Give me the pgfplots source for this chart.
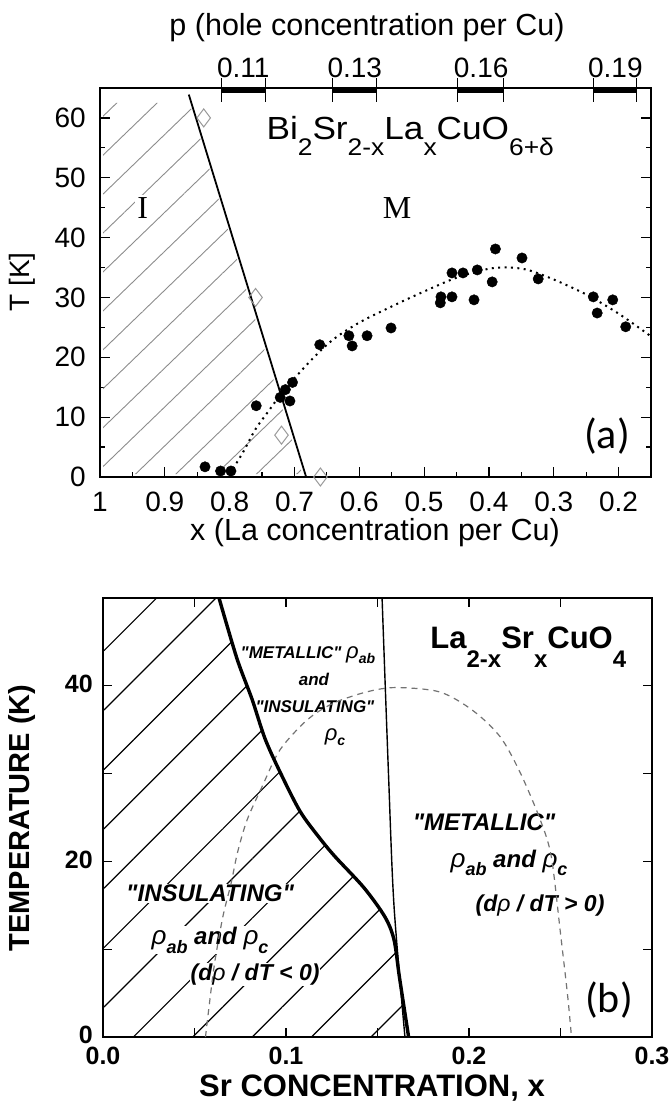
\documentclass[border=0pt]{standalone}
\usepackage{fontspec}
\setmainfont[Ligatures=TeXOff]{Liberation Sans}
\newfontfamily\seriffont{Liberation Serif}
\newfontfamily\carlito{Carlito}
\newfontfamily\widesans[FakeStretch=1.1]{Liberation Sans}
\usepackage{pgfplots}
\pgfplotsset{compat=1.18}
\usetikzlibrary{patterns.meta}
\newcommand\fs[1]{\fontsize{#1}{#1}\selectfont}
\newcommand\dn[2]{\raisebox{-#1}{#2}}
\newcommand\rhoab{{\mdseries\fs{26}ρ}\dn{0.35em}{\fs{18}ab}}
\newcommand\rhoc{{\mdseries\fs{26}ρ}\dn{0.35em}{\fs{18}c}}

\begin{document}
\begin{tikzpicture}
\path[use as bounding box] (0pt,0pt) rectangle (671pt,1111pt);

% ---- (a) Bi2Sr2-xLaxCuO6+d
\begin{axis}[
  at={(100pt,634pt)}, anchor=south west,
  scale only axis, width=551pt, height=389pt,
  x dir=reverse, xmin=0.15, xmax=1, ymin=0, ymax=65,
  xtick={0.2,0.3,0.4,0.5,0.6,0.7,0.8,0.9,1},
  xticklabels={0.2,0.3,0.4,0.5,0.6,0.7,0.8,0.9,1},
  minor xtick={0.25,0.35,0.45,0.55,0.65,0.75,0.85,0.95},
  ytick={0,10,20,30,40,50,60},
  yticklabels={0,10,20,30,40,50,60},
  minor ytick={5,15,25,35,45,55},
  xtick pos=left, ytick pos=both,
  tick align=inside,
  major tick length=10pt, minor tick length=5pt,
  every tick/.style={black, line width=1.2pt},
  axis line style={line width=1.6pt},
  tick label style={font=\fs{28}, inner sep=1pt},
  xticklabel style={yshift=-14pt},
  yticklabel style={xshift=-13pt},
  clip=false,
]
% insulating region
\addplot[draw=none, pattern={Lines[angle=44,distance=28pt,line width=0.9pt]},
  pattern color=black!45, forget plot]
  coordinates {(0.995,0.5) (0.995,62.5) (0.862,62.5) (0.688,0.5)} -- cycle;
\node[fill=white, inner sep=2pt, font=\seriffont\fs{32}] at (axis cs:0.934,45) {I};
% I-M boundary
\addplot[black, line width=1.8pt] coordinates {(0.863,63.9) (0.682,0)};
% dotted Tc(x) guide
\addplot[black, line width=2pt, dash pattern=on 2pt off 4.4pt, smooth] coordinates {
  (0.80,0.5) (0.78,4) (0.76,8) (0.74,11) (0.72,14) (0.70,16.5) (0.67,20)
  (0.64,23) (0.60,25.8) (0.55,28.5) (0.50,31) (0.45,33.3) (0.40,34.8)
  (0.37,35) (0.34,34.6) (0.30,33) (0.25,30.5) (0.20,27.3) (0.15,23.5)};
% onset of insulating behaviour
\addplot[only marks, mark=diamond, mark size=9pt,
  mark options={fill=white, draw=black!40, line width=1pt}]
  coordinates {(0.84,60) (0.76,30) (0.72,7) (0.66,0)};
% Tc data
\addplot[only marks, mark=*, mark size=5.2pt, black] coordinates {
  (0.838,1.7) (0.814,1.0) (0.798,1.0) (0.759,11.9) (0.722,13.3) (0.714,14.6)
  (0.703,15.8) (0.707,12.7) (0.661,22.1) (0.616,23.6) (0.611,21.9) (0.588,23.6)
  (0.551,24.9) (0.475,29.1) (0.474,30.1) (0.457,30.1) (0.457,34.1) (0.440,34.1)
  (0.423,29.6) (0.418,34.6) (0.395,32.6) (0.390,38.1) (0.349,36.6) (0.324,33.1)
  (0.239,30.1) (0.233,27.4) (0.209,29.6) (0.189,25.1)};
% hole concentration scale on top
\addplot[black, line width=4.5pt, forget plot] coordinates {(0.813,64.6) (0.744,64.6)};
\addplot[black, line width=4.5pt, forget plot] coordinates {(0.641,64.6) (0.573,64.6)};
\addplot[black, line width=4.5pt, forget plot] coordinates {(0.448,64.6) (0.377,64.6)};
\addplot[black, line width=4.5pt, forget plot] coordinates {(0.239,64.6) (0.172,64.6)};
\draw[line width=1.1pt] (axis cs:0.813,66.7) -- (axis cs:0.813,62.7);
\draw[line width=1.1pt] (axis cs:0.744,66.7) -- (axis cs:0.744,62.7);
\draw[line width=1.1pt] (axis cs:0.641,66.7) -- (axis cs:0.641,62.7);
\draw[line width=1.1pt] (axis cs:0.573,66.7) -- (axis cs:0.573,62.7);
\draw[line width=1.1pt] (axis cs:0.448,66.7) -- (axis cs:0.448,62.7);
\draw[line width=1.1pt] (axis cs:0.377,66.7) -- (axis cs:0.377,62.7);
\draw[line width=1.1pt] (axis cs:0.239,66.7) -- (axis cs:0.239,62.7);
\draw[line width=1.1pt] (axis cs:0.172,66.7) -- (axis cs:0.172,62.7);
\node[font=\fs{28}] at (axis cs:0.779,68.3) {0.11};
\node[font=\fs{28}] at (axis cs:0.607,68.3) {0.13};
\node[font=\fs{28}] at (axis cs:0.412,68.3) {0.16};
\node[font=\fs{28}] at (axis cs:0.205,68.3) {0.19};
\end{axis}

% ---- (b) La2-xSrxCuO4
\begin{axis}[
  at={(103pt,74pt)}, anchor=south west,
  scale only axis, width=549pt, height=439pt,
  xmin=0, xmax=0.3, ymin=0, ymax=50,
  xtick={0,0.05,0.1,0.15,0.2,0.25,0.3},
  xticklabels={0.0,,0.1,,0.2,,0.3},
  ytick={0,10,20,30,40,50},
  yticklabels={0,,20,,40,},
  xtick pos=both, ytick pos=both,
  tick align=inside,
  major tick length=9pt,
  every tick/.style={black, line width=1.4pt},
  axis line style={line width=2pt},
  tick label style={font=\bfseries\fs{25}, inner sep=1pt},
  xticklabel style={yshift=-9pt},
  yticklabel style={xshift=-9pt, yshift=2pt},
  clip=false,
]
\addplot[draw=none, pattern={Lines[angle=45,distance=42pt,line width=1.2pt]},
  pattern color=black, forget plot]
  coordinates {(0,0) (0,50) (0.0634,50) (0.0732,43.1) (0.0814,38.5) (0.0885,34)
  (0.0967,30.2) (0.1077,25.7) (0.1186,22.6) (0.127,20.5) (0.1426,17) (0.154,13.7)
  (0.159,11.1) (0.162,6.8) (0.167,0)} -- cycle;
\node[fill=white, inner sep=1pt, font=\bfseries\itshape\fs{24}] at (axis cs:0.0585,16.4) {"INSULATING"};
\node[fill=white, inner sep=1pt, font=\bfseries\itshape\fs{24}] at (axis cs:0.0585,11.0) {\rhoab\ and \rhoc};
\node[fill=white, inner sep=1pt, font=\bfseries\itshape\fs{23}] at (axis cs:0.0831,7.1) {(d{\mdseries ρ} / dT < 0)};
\node[font=\bfseries\itshape\fs{17}] at (axis cs:0.1120,43.5) {"METALLIC" {\mdseries\fs{22}ρ}\dn{0.3em}{\fs{14}ab}};
\node[font=\bfseries\itshape\fs{17}] at (axis cs:0.1153,40.7) {and};
\node[font=\bfseries\itshape\fs{17}] at (axis cs:0.1158,37.6) {"INSULATING"};
\node[font=\bfseries\itshape\fs{17}] at (axis cs:0.1268,34.2) {{\mdseries\fs{22}ρ}\dn{0.3em}{\fs{14}c}};
\node[font=\bfseries\itshape\fs{24}] at (axis cs:0.2082,24.5) {"METALLIC"};
\node[font=\bfseries\itshape\fs{24}] at (axis cs:0.2219,19.8) {\rhoab\ and \rhoc};
\node[font=\bfseries\itshape\fs{23}] at (axis cs:0.2388,15.0) {(d{\mdseries ρ} / dT > 0)};
\node[anchor=base west, font=\bfseries\fs{31}] at (axis cs:0.1770,44.3)
  {La\dn{0.62em}{\fs{24}2-x}Sr\dn{0.62em}{\fs{24}x}CuO\dn{0.62em}{\fs{24}4}};
\node[font=\carlito\fs{42}] at (axis cs:0.2765,4.2) {(b)};
% superconducting dome
\addplot[black!55, line width=1.2pt, dash pattern=on 6pt off 5pt, smooth, tension=0.5] coordinates {
  (0.056,0) (0.0607,8) (0.0655,13.7) (0.07,17.5) (0.0735,21) (0.0787,24.7)
  (0.0869,28.5) (0.0967,32.7) (0.1115,36.1) (0.1257,38.0) (0.144,39.3) (0.16,39.8)
  (0.184,39.3) (0.202,37.2) (0.217,34.2) (0.228,30.1) (0.239,24.7) (0.245,20.5)
  (0.250,11.8) (0.254,4.5) (0.256,0)};
% metal-insulator crossover lines
\addplot[black, line width=1.4pt, smooth] coordinates {(0.1525,50) (0.156,30) (0.159,15) (0.165,0)};
\addplot[black, line width=3.4pt, smooth] coordinates {
  (0.0634,50) (0.0732,43.1) (0.0814,38.5) (0.0885,34) (0.0967,30.2) (0.1077,25.7)
  (0.1186,22.6) (0.127,20.5) (0.1426,17) (0.154,13.7) (0.159,11.1) (0.162,6.8) (0.167,0)};
\end{axis}

% ---- titles and labels
\begin{scope}[x=1pt, y=1pt]
\node[font=\fs{30.5}, inner sep=1pt] at (367,1083) {p (hole concentration per Cu)};
\node[font=\fs{30.5}, inner sep=1pt] at (375,578) {x (La concentration per Cu)};
\node[font=\fs{28}, rotate=90, inner sep=1pt] at (22,829) {T [K]};
\node[anchor=base west, font=\widesans\fs{32}] at (263,971)
  {Bi\dn{0.5em}{\fs{24}2}Sr\dn{0.5em}{\fs{24}2-x}La\dn{0.5em}{\fs{24}x}CuO\dn{0.5em}{\fs{24}6+δ}};
\node[font=\seriffont\fs{32}] at (397,903) {M};
\node[font=\carlito\fs{42}] at (607,675) {(a)};
\node[font=\bfseries\fs{29}, rotate=90, inner sep=1pt] at (22,293) {TEMPERATURE (K)};
\node[font=\bfseries\fs{31}, inner sep=1pt] at (372,23) {Sr CONCENTRATION, x};
\end{scope}
\end{tikzpicture}
\end{document}
